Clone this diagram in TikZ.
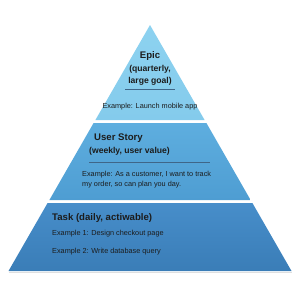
\documentclass[tikz,border=0pt]{standalone}
\usepackage{fontspec}
\setmainfont{Liberation Sans}
\definecolor{capaUno}{HTML}{8DD2F0}
\definecolor{capaUnoB}{HTML}{84CBEC}
\definecolor{capaDos}{HTML}{5EAEDF}
\definecolor{capaDosB}{HTML}{4E9DD2}
\definecolor{capaTres}{HTML}{478ECA}
\definecolor{capaTresB}{HTML}{3A7DB7}
\definecolor{linea}{HTML}{3F6688}
\definecolor{texto}{HTML}{1C1C1C}
\begin{document}
\begin{tikzpicture}[x=1pt, y=-1pt,
    capa/.style={draw=none},
    titulo/.style={inner sep=0pt, text=texto, font=\fontsize{9.6}{11}\selectfont\bfseries},
    subtitulo/.style={inner sep=0pt, text=texto, font=\fontsize{8.6}{10}\selectfont\bfseries},
    ejemplo/.style={inner sep=0pt, text=texto, font=\fontsize{7.3}{9}\selectfont},
    divisor/.style={draw=linea, line width=0.6pt}]
    \useasboundingbox (0,0) rectangle (300,300);

    % Vertices de la piramide
    \coordinate (cima) at (150,25);
    \coordinate (a1) at (95.4,120);   \coordinate (b1) at (204.6,120);
    \coordinate (a2) at (93.6,123);   \coordinate (b2) at (206.4,123);
    \coordinate (c2) at (49.4,200);   \coordinate (d2) at (250.6,200);
    \coordinate (a3) at (47.6,203);   \coordinate (b3) at (252.4,203);
    \coordinate (c3) at (8.5,271);    \coordinate (d3) at (291.5,271);

    % Capas
    \shade[capa, top color=capaUno, bottom color=capaUnoB] (cima) -- (b1) -- (a1) -- cycle;
    \shade[capa, top color=capaDos, bottom color=capaDosB] (a2) -- (b2) -- (d2) -- (c2) -- cycle;
    \shade[capa, top color=capaTres, bottom color=capaTresB] (a3) -- (b3) -- (d3) -- (c3) -- cycle;
    \draw[gray!25, line width=0.8pt] ([yshift=-1pt]c3) -- ([yshift=-1pt]d3);

    % Epic
    \node[titulo, anchor=base] (epic) at (150,58.5) {Epic};
    \node[subtitulo, anchor=base] (epicA) at (150,71) {(quarterly,};
    \node[subtitulo, anchor=base] (epicB) at (150,83) {large goal)};
    \coordinate (l1a) at (125,89);
    \coordinate (l1b) at (175,89);
    \draw[divisor] (l1a) -- (l1b);
    \node[ejemplo, anchor=base] (epicEj) at (150,108.5) {Example: Launch mobile app};

    % User story
    \node[titulo, anchor=base west] (historia) at (94,140.5) {User Story};
    \node[subtitulo, anchor=base west] (historiaA) at (89,153) {(weekly, user value)};
    \coordinate (l2a) at (89,162);
    \coordinate (l2b) at (210,162);
    \draw[divisor] (l2a) -- (l2b);
    \node[ejemplo, anchor=base west] (historiaEj) at (82,176.5) {Example: As a customer, I want to track};
    \node[ejemplo, anchor=base west] (historiaEjB) at (82,186.5) {my order, so can plan you day.};

    % Task
    \node[titulo, anchor=base west] (tarea) at (52,220.5) {Task (daily, actiwable)};
    \node[ejemplo, anchor=base west] (tareaEj1) at (52,235.5) {Example 1: Design checkout page};
    \node[ejemplo, anchor=base west] (tareaEj2) at (52,253.5) {Example 2: Write database query};
\end{tikzpicture}
\end{document}
